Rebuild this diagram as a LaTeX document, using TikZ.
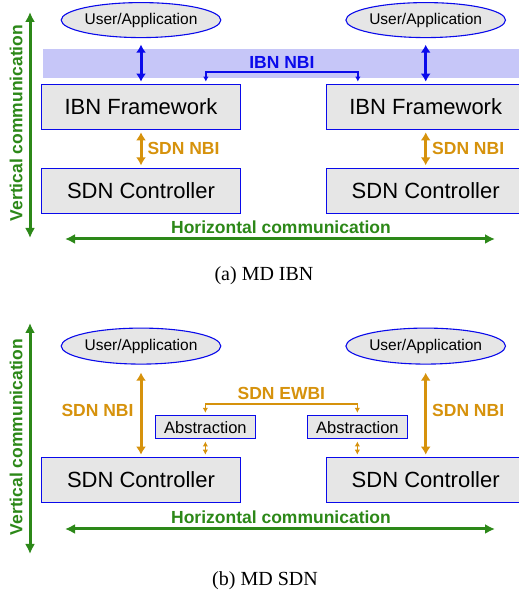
\documentclass[tikz,border=0pt]{standalone}
\usepackage{fontspec}
\setmainfont{Liberation Serif}
\setsansfont{Liberation Sans}
\usetikzlibrary{shapes.geometric,positioning,calc,arrows.meta}
\definecolor{ibnblue}{RGB}{10,10,235}
\definecolor{nbiorange}{RGB}{214,146,12}
\definecolor{commgreen}{RGB}{44,136,24}
\definecolor{bandblue}{RGB}{198,198,248}
\definecolor{boxgray}{RGB}{230,230,230}
\newcommand{\boxfont}{\sffamily\fontsize{22}{26}\selectfont}
\newcommand{\lblfont}{\sffamily\bfseries\fontsize{17.5}{20}\selectfont}
\tikzset{
  fw/.style={rectangle, draw=ibnblue, line width=0.7pt, fill=boxgray, minimum width=199pt, minimum height=45pt, inner sep=0pt, font=\boxfont},
  usr/.style={ellipse, draw=ibnblue, line width=1.1pt, fill=boxgray, minimum width=132pt, minimum height=35pt, inner sep=0pt, font=\sffamily\fontsize{15.5}{18}\selectfont},
  absbox/.style={rectangle, draw=ibnblue, line width=0.7pt, fill=boxgray, minimum width=100pt, minimum height=23pt, inner sep=0pt, font=\sffamily\fontsize{16.5}{19}\selectfont},
  lbl/.style={inner sep=0pt, font=\lblfont},
  subcap/.style={inner sep=0pt, font=\rmfamily\fontsize{20}{24}\selectfont},
  bigarr/.style={{Latex[length=8pt,width=10pt]}-{Latex[length=8pt,width=10pt]}, line width=3pt, shorten <=2.5pt, shorten >=2.5pt},
  smallarr/.style={{Latex[length=5pt,width=5.5pt]}-{Latex[length=5pt,width=5.5pt]}, line width=1.5pt, shorten <=2.5pt, shorten >=2.5pt},
  commarr/.style={{Latex[length=10pt,width=10pt]}-{Latex[length=10pt,width=10pt]}, line width=3pt, commgreen}
}
\begin{document}
\begin{tikzpicture}[x=1pt, y=1pt]
    \useasboundingbox (0,0) rectangle (519,600);
    % (a) MD IBN
    \fill[bandblue] (43,522) rectangle (519,551);
    \node[fw] (ibn1) at (141,493) {IBN Framework};
    \node[fw, right=85pt of ibn1] (ibn2) {IBN Framework};
    \node[fw, below=38pt of ibn1] (sdn1) {SDN Controller};
    \node[fw, below=38pt of ibn2] (sdn2) {SDN Controller};
    \node[usr, above=46pt of ibn1] (user1) {User/Application};
    \node[usr, above=46pt of ibn2] (user2) {User/Application};

    \draw[bigarr, ibnblue, shorten <=6.5pt] (user1) -- (ibn1);
    \draw[bigarr, ibnblue, shorten <=6.5pt] (user2) -- (ibn2);
    \draw[smallarr, ibnblue] ($(ibn1.north east)+(-35,0)$) -- ++(0,12) -| ($(ibn2.north west)+(32,0)$)
        node[lbl, pos=0.25, above=3pt, text=ibnblue] (ibnnbi) {IBN NBI};
    \draw[bigarr, nbiorange] (ibn1) -- (sdn1) node[lbl, midway, right=5pt, text=nbiorange] (nbi1) {SDN NBI};
    \draw[bigarr, nbiorange] (ibn2) -- (sdn2) node[lbl, midway, right=5pt, text=nbiorange] (nbi2) {SDN NBI};

    \coordinate (v1t) at (30,588);
    \coordinate (v1b) at (30,362);
    \draw[commarr] (v1t) -- (v1b);
    \node[lbl, text=commgreen, rotate=90] (vert1) at (16,477) {Vertical communication};
    \coordinate (h1l) at (65,361);
    \coordinate (h1r) at (495,361);
    \draw[commarr] (h1l) -- (h1r);
    \node[lbl, text=commgreen] (horiz1) at (281,373) {Horizontal communication};
    \node[subcap] (capa) at (264,324) {(a) MD IBN};

    % (b) MD SDN
    \node[fw] (sdn3) at (141,120) {SDN Controller};
    \node[fw, right=85pt of sdn3] (sdn4) {SDN Controller};
    \node[usr, minimum height=36pt, above=92.5pt of sdn3] (user3) {User/Application};
    \node[usr, minimum height=36pt, above=92.5pt of sdn4] (user4) {User/Application};
    \node[absbox] (abs1) at ($(sdn3.north east)+(-35.5,30)$) {Abstraction};
    \node[absbox] (abs2) at ($(sdn4.north west)+(31.5,30)$) {Abstraction};

    \draw[bigarr, nbiorange, shorten <=8pt] (user3) -- (sdn3) node[lbl, midway, left=6pt, text=nbiorange] (nbi3) {SDN NBI};
    \draw[bigarr, nbiorange, shorten <=8pt] (user4) -- (sdn4) node[lbl, midway, right=5pt, text=nbiorange] (nbi4) {SDN NBI};
    \draw[smallarr, nbiorange] (abs1) -- (abs1 |- sdn3.north);
    \draw[smallarr, nbiorange] (abs2) -- (abs2 |- sdn4.north);
    \draw[smallarr, nbiorange] (abs1.north) -- ++(0,11.5) -| (abs2.north)
        node[lbl, pos=0.25, above=3pt, text=nbiorange] (ewbi) {SDN EWBI};

    \coordinate (v2t) at (30,277);
    \coordinate (v2b) at (30,46);
    \draw[commarr] (v2t) -- (v2b);
    \node[lbl, text=commgreen, rotate=90] (vert2) at (16,163) {Vertical communication};
    \coordinate (h2l) at (65,71);
    \coordinate (h2r) at (495,71);
    \draw[commarr] (h2l) -- (h2r);
    \node[lbl, text=commgreen] (horiz2) at (281,83) {Horizontal communication};
    \node[subcap] (capb) at (265,19) {(b) MD SDN};
\end{tikzpicture}
\end{document}
